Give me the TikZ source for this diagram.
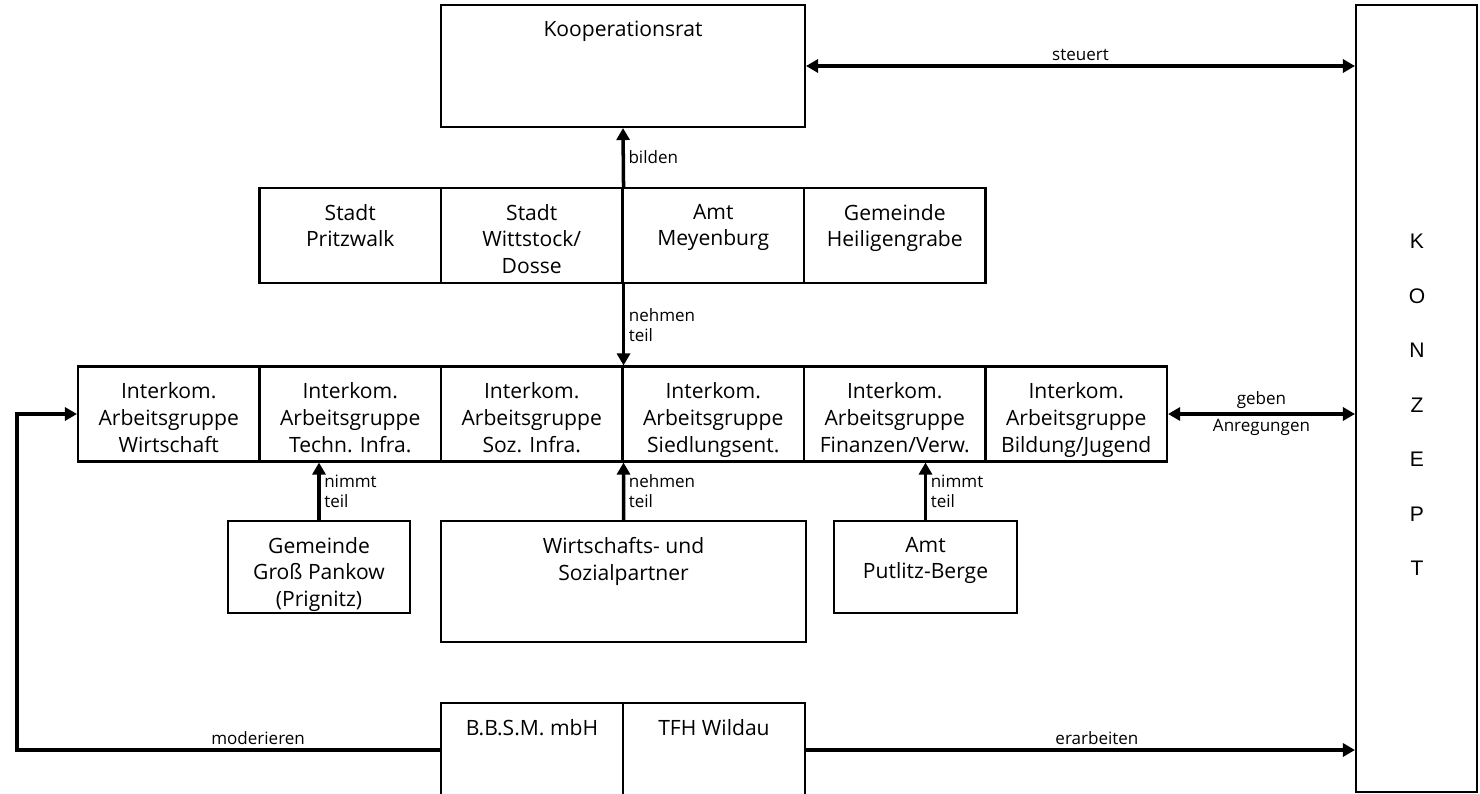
\documentclass[tikz,border=0pt]{standalone}
\usepackage{fontspec}
\setmainfont{Open Sans}
\newfontfamily\konzeptfont{Liberation Sans}
\usetikzlibrary{arrows.meta}

\begin{document}
\begin{tikzpicture}[x=0.02cm, y=-0.02cm,
    box/.style={draw, line width=1.2pt, inner sep=0pt},
    cell/.style={box, minimum width=3.63cm, minimum height=1.9cm},
    txt/.style={anchor=north, align=center, inner sep=0pt, yshift=-9.5pt, font=\fontsize{12}{15.3}\selectfont},
    lbl/.style={font=\fontsize{9.7}{11.4}\selectfont, inner sep=2pt},
    arr/.style={line width=2pt, -{Triangle[length=2.4mm, width=2.6mm]}},
    biarr/.style={line width=2pt, {Triangle[length=2.4mm, width=2.6mm]}-{Triangle[length=2.4mm, width=2.6mm]}}]
    \clip (0,0) rectangle (1480,794);

    % Kooperationsrat and Konzept
    \node[box, minimum width=7.28cm, minimum height=2.44cm] (kr) at (623,66) {};
    \node[txt] (kr-t) at (kr.north) {Kooperationsrat};
    \node[box, minimum width=2.42cm, minimum height=15.74cm] (konzept) at (1416.5,398.5) {};
    \foreach \c [count=\i] in {K,O,N,Z,E,P,T}
        \node[font=\konzeptfont\fontsize{12}{14}\selectfont] (kz\i) at (1417,187+54.5*\i) {\c};

    % Kommunen
    \node[cell] (pri) at (350.25,235.5) {};
    \node[txt] (pri-t) at (pri.north) {Stadt\\Pritzwalk};
    \node[cell] (wit) at (531.75,235.5) {};
    \node[txt] (wit-t) at (wit.north) {Stadt\\Wittstock/\\Dosse};
    \node[cell] (mey) at (713.25,235.5) {};
    \node[txt] (mey-t) at (mey.north) {Amt\\Meyenburg};
    \node[cell] (hei) at (894.75,235.5) {};
    \node[txt] (hei-t) at (hei.north) {Gemeinde\\Heiligengrabe};

    % Arbeitsgruppen
    \node[cell] (wi) at (168.75,414) {};
    \node[txt] (wi-t) at (wi.north) {Interkom.\\Arbeitsgruppe\\Wirtschaft};
    \node[cell] (tech) at (350.25,414) {};
    \node[txt] (tech-t) at (tech.north) {Interkom.\\Arbeitsgruppe\\Techn. Infra.};
    \node[cell] (soz) at (531.75,414) {};
    \node[txt] (soz-t) at (soz.north) {Interkom.\\Arbeitsgruppe\\Soz. Infra.};
    \node[cell] (sied) at (713.25,414) {};
    \node[txt] (sied-t) at (sied.north) {Interkom.\\Arbeitsgruppe\\Siedlungsent.};
    \node[cell] (fin) at (894.75,414) {};
    \node[txt] (fin-t) at (fin.north) {Interkom.\\Arbeitsgruppe\\Finanzen/Verw.};
    \node[cell] (bil) at (1076.25,414) {};
    \node[txt] (bil-t) at (bil.north) {Interkom.\\Arbeitsgruppe\\Bildung/Jugend};

    % Weitere Teilnehmer
    \node[box, minimum width=3.64cm, minimum height=1.84cm] (gp) at (319,567) {};
    \node[txt] (gp-t) at (gp.north) {Gemeinde\\Groß Pankow\\(Prignitz)};
    \node[box, minimum width=7.3cm, minimum height=2.42cm] (wiso) at (623.5,581.5) {};
    \node[txt] (wiso-t) at (wiso.north) {Wirtschafts- und\\Sozialpartner};
    \node[box, minimum width=3.66cm, minimum height=1.84cm] (pb) at (925.5,567) {};
    \node[txt] (pb-t) at (pb.north) {Amt\\Putlitz-Berge};

    % Moderation
    \node[box, minimum width=3.64cm, minimum height=1.88cm] (bbsm) at (532,750) {};
    \node[txt] (bbsm-t) at (bbsm.north) {B.B.S.M. mbH};
    \node[box, minimum width=3.64cm, minimum height=1.88cm] (tfh) at (714,750) {};
    \node[txt] (tfh-t) at (tfh.north) {TFH Wildau};

    % Pfeile
    \draw[biarr] (kr.east) -- node[lbl, above] {steuert} (kr.east -| konzept.west);
    \draw[arr] (wit.north east) -- node[lbl, right] {bilden} (kr.south);
    \draw[arr] (wit.south east) -- node[lbl, right, align=left] {nehmen\\teil} (soz.north east);
    \draw[arr] (gp.north) -- node[lbl, right, align=left] {nimmt\\teil} (gp.north |- tech.south);
    \draw[arr] (wiso.north) -- node[lbl, right, align=left] {nehmen\\teil} (soz.south east);
    \draw[arr] (pb.north) -- node[lbl, right, align=left] {nimmt\\teil} (pb.north |- fin.south);
    \draw[biarr] (bil.east) -- node[lbl, above] {geben} node[lbl, below] {Anregungen} (bil.east -| konzept.west);
    \coordinate (modturn) at (17,750);
    \draw[arr] (bbsm.west) -- node[lbl, above, pos=0.43] {moderieren} (modturn) |- (wi.west);
    \draw[arr] (tfh.east) -- node[lbl, above, pos=0.53] {erarbeiten} (tfh.east -| konzept.west);
\end{tikzpicture}
\end{document}
